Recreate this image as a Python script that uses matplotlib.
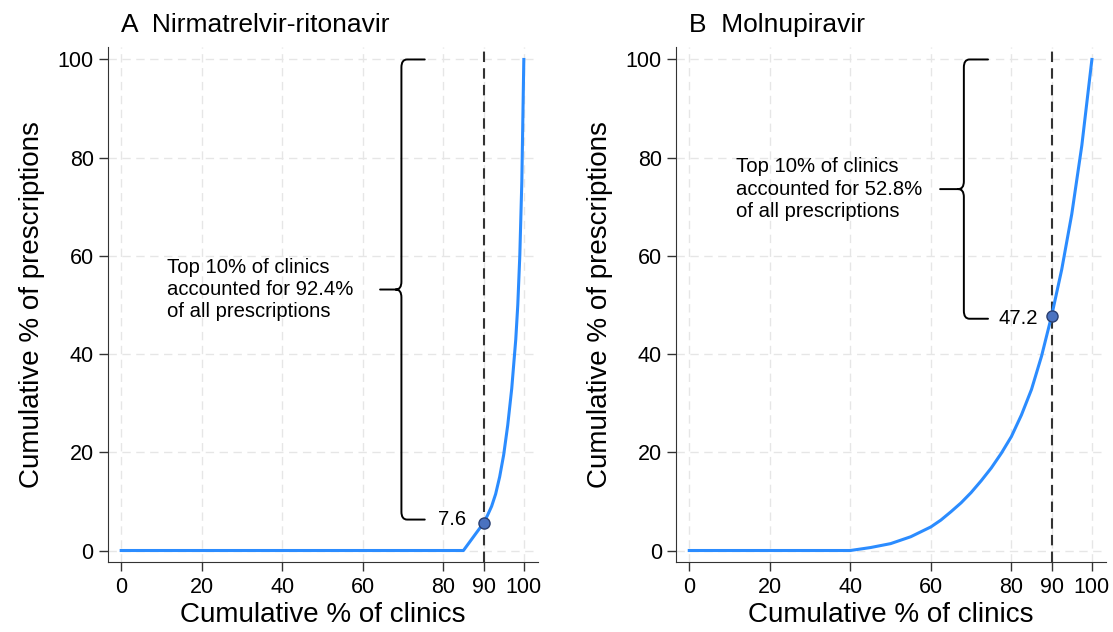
import matplotlib.pyplot as plt
import numpy as np
from matplotlib.path import Path
from matplotlib.patches import PathPatch

plt.rcParams['font.family'] = ['Liberation Sans', 'DejaVu Sans']

# Panel A: Nirmatrelvir-ritonavir (cumulative % of clinics vs prescriptions)
x_a = [0, 85, 90, 91, 92, 93, 94, 95, 96, 97, 98, 98.5, 99, 99.5, 100]
y_a = [0, 0, 5.6, 7.2, 9.0, 11.5, 15, 19.5, 25.5, 33, 43, 50, 60, 75, 100]

# Panel B: Molnupiravir
x_b = [0, 40, 45, 50, 55, 60, 62.5, 65, 67.5, 70, 72.5, 75, 77.5, 80,
       82.5, 85, 87.5, 90, 92.5, 95, 97.5, 100]
y_b = [0, 0, 0.6, 1.4, 2.8, 4.8, 6.2, 7.9, 9.7, 11.8, 14.2, 16.8, 19.8, 23.2,
       27.6, 32.8, 39.6, 47.8, 57.2, 68.5, 82.5, 100]

titles = ['A  Nirmatrelvir-ritonavir', 'B  Molnupiravir']
cut = 90
cut_labels = ['7.6', '47.2']
brace_bottoms = [6.3, 47.2]
notes = ['Top 10% of clinics\naccounted for 92.4%\nof all prescriptions',
         'Top 10% of clinics\naccounted for 52.8%\nof all prescriptions']
xticks = [0, 20, 40, 60, 80, 90, 100]
yticks = [0, 20, 40, 60, 80, 100]

line_col = '#2b8cff'
dot_col = '#4a72c0'


def brace(ax, x0, xa, xt, yt, yb, rx=1.4, ry=1.6):
    ym = (yt + yb) / 2
    verts = [(xa, yt), (x0 + rx, yt), (x0, yt), (x0, yt - ry),
             (x0, ym + ry), (x0, ym), (x0 - rx, ym), (xt, ym),
             (x0 - rx, ym), (x0, ym), (x0, ym - ry),
             (x0, yb + ry), (x0, yb), (x0 + rx, yb), (xa, yb)]
    codes = [Path.MOVETO, Path.LINETO, Path.CURVE3, Path.CURVE3,
             Path.LINETO, Path.CURVE3, Path.CURVE3, Path.LINETO,
             Path.MOVETO, Path.CURVE3, Path.CURVE3,
             Path.LINETO, Path.CURVE3, Path.CURVE3, Path.LINETO]
    ax.add_patch(PathPatch(Path(verts, codes), fill=False, lw=1.4,
                           edgecolor='black', capstyle='round', zorder=3))
    return ym


fig = plt.figure(figsize=(11.13, 6.32), dpi=100)
ax_a = fig.add_axes([0.0973, 0.1103, 0.386, 0.8158])
ax_b = fig.add_axes([0.6077, 0.1103, 0.386, 0.8158])

data = [(x_a, y_a), (x_b, y_b)]
brace_x = [(69.6, 75.4, 64.3), (68.2, 74.2, 62.3)]
label_x = [85.7, 86.7]

for i, ax in enumerate([ax_a, ax_b]):
    xs, ys = data[i]
    ax.plot(xs, ys, color=line_col, lw=2.2, zorder=4)
    ax.axvline(cut, color='#333333', lw=1.5, ls=(0, (5, 3)), zorder=2)
    yc = np.interp(cut, xs, ys)
    ax.plot([cut], [yc], 'o', ms=8, mfc=dot_col, mec='#2a3f70', mew=1, zorder=5)

    x0, xa, xt = brace_x[i]
    ym = brace(ax, x0, xa, xt, 100, brace_bottoms[i])
    ax.text(label_x[i], brace_bottoms[i], cut_labels[i], fontsize=14.6,
            ha='right', va='center')
    ax.text(11.5, ym, notes[i], fontsize=14.6, ha='left', va='center',
            linespacing=1.22)

    ax.set_xlim(-3.2, 103.5)
    ax.set_ylim(-2.4, 102.6)
    ax.set_xticks(xticks)
    ax.set_yticks(yticks)
    ax.tick_params(labelsize=15.5, length=6.5, width=1, pad=4, color='#333333')
    ax.grid(True, color='#e6e6e6', ls=(0, (6, 4)), lw=1)
    ax.set_axisbelow(True)
    for s in ['top', 'right']:
        ax.spines[s].set_visible(False)
    for s in ['left', 'bottom']:
        ax.spines[s].set_color('#333333')
    ax.set_xlabel('Cumulative % of clinics', fontsize=20, labelpad=3)
    ax.set_ylabel('Cumulative % of prescriptions', fontsize=20, labelpad=9)
    ax.text(0, 104.5, titles[i], fontsize=19, ha='left', va='bottom')

fig.savefig('out.png', dpi=100)
